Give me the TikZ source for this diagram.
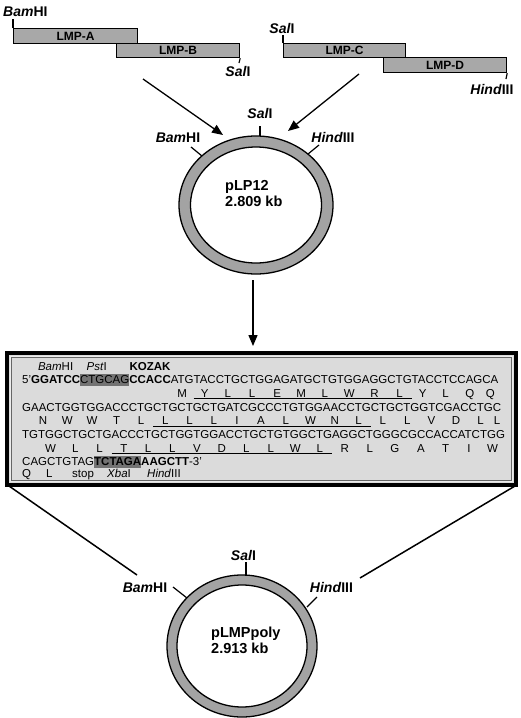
\documentclass[tikz,border=0pt]{standalone}
\usepackage{fontspec}
\setmainfont{Liberation Sans}
\usetikzlibrary{arrows.meta}
\definecolor{ringgray}{gray}{0.64}
\definecolor{bargray}{gray}{0.66}
\definecolor{boxgray}{gray}{0.86}
\definecolor{hlgray}{gray}{0.45}
\newsavebox\cdbox
\newcommand\cd[2]{\setbox\cdbox\hbox{#1}\vtop{\copy\cdbox\hbox to\wd\cdbox{\hss#2\hss}}}
\newcommand\cu[2]{\setbox\cdbox\hbox{#1}\vtop{\copy\cdbox\hbox to\wd\cdbox{\hss#2\hss}\kern1.3pt\hrule height0.8pt}}
\newcommand\lb[2]{\setbox\cdbox\hbox{#2}\vbox{\hbox to\wd\cdbox{\hss#1\hss}\copy\cdbox}}
\newcommand\hl[1]{\setbox\cdbox\hbox{#1}\rlap{\color{hlgray}\rule[-2.3pt]{\wd\cdbox}{11.8pt}}\copy\cdbox}
\begin{document}
\begin{tikzpicture}[x=1pt,y=-1pt,
  bar/.style={draw, fill=bargray, line width=1.2pt, inner sep=0pt, anchor=north west,
    font=\bfseries\fontsize{12}{14}\selectfont},
  lab/.style={inner sep=0pt, font=\bfseries\fontsize{14}{16}\selectfont},
  big/.style={inner sep=0pt, anchor=base west, font=\bfseries\fontsize{14.5}{16}\selectfont},
  seq/.style={inner sep=0pt, anchor=base west, font=\fontsize{11.5}{13.5}\selectfont},
  tick/.style={line width=1.2pt},
  arr/.style={line width=1.3pt, -{Triangle[length=11pt,width=9pt]}},
  link/.style={line width=1.5pt}]
\useasboundingbox (0,0) rectangle (520,718);

% ---------- fragments ----------
\node[bar, minimum width=124pt, minimum height=15pt] (lmpa) at (13,28) {LMP-A};
\node[bar, minimum width=123pt, minimum height=14pt] (lmpb) at (116,43) {LMP-B};
\node[bar, minimum width=122pt, minimum height=14pt] (lmpc) at (283,43) {LMP-C};
\node[bar, minimum width=123pt, minimum height=15pt] (lmpd) at (383,57) {LMP-D};

\coordinate (t1) at (13,19);
\draw[tick] (lmpa.north west) -- (t1);
\node[lab, anchor=base west] (bam0) at (3,16) {\textit{Bam}HI};
\coordinate (t2) at (239,63);
\draw[tick] (lmpb.south east) -- (t2);
\node[lab, anchor=base] (sal0) at (238,76) {\textit{Sal}I};
\coordinate (t3) at (283,35);
\draw[tick] (lmpc.north west) -- (t3);
\node[lab, anchor=base] (sal1) at (282,33) {\textit{Sal}I};
\coordinate (t4) at (506,79);
\draw[tick] (lmpd.south east) -- (t4);
\node[lab, anchor=base] (hind0) at (492,94) {\textit{Hind}III};

% ---------- arrows to pLP12 ----------
\coordinate (a1s) at (143,79);
\coordinate (a1e) at (223,135);
\coordinate (a2s) at (359,74);
\coordinate (a2e) at (288,131);
\draw[arr] (a1s) -- (a1e);
\draw[arr] (a2s) -- (a2e);

% ---------- pLP12 ----------
\filldraw[fill=ringgray, line width=1.3pt] (256,205) ellipse [x radius=77, y radius=69];
\filldraw[fill=white, line width=1.3pt] (256,205) ellipse [x radius=65.5, y radius=58];
\node[big] (p1a) at (225,190) {pLP12};
\node[big] (p1b) at (225,206) {2.809 kb};
\coordinate (s1a) at (260,126); \coordinate (s1b) at (260,136);
\draw[tick] (s1a) -- (s1b);
\node[lab, anchor=base] (sal2) at (260,118) {\textit{Sal}I};
\coordinate (b1a) at (191,147); \coordinate (b1b) at (202,156);
\draw[tick] (b1a) -- (b1b);
\node[lab, anchor=base] (bam2) at (178,142) {\textit{Bam}HI};
\coordinate (h1a) at (319,145); \coordinate (h1b) at (308,154);
\draw[tick] (h1a) -- (h1b);
\node[lab, anchor=base] (hind2) at (333,142) {\textit{Hind}III};

\coordinate (d1) at (253,280);
\coordinate (d2) at (253,346);
\draw[arr] (d1) -- (d2);

% ---------- sequence box ----------
\draw[line width=4pt, fill=boxgray] (7,353) rectangle (516,485);
\draw[line width=1.2pt, gray!15] (10.2,356.2) rectangle (512.8,481.8);
\draw[line width=0.6pt, gray!80!black] (11.6,357.6) rectangle (511.4,480.4);
\coordinate (bl) at (9,486);
\coordinate (br) at (515,486);

\node[seq] (l1) at (22,383.5) {5'\lb{\textit{Bam}HI}{\textbf{GGATCC}}\lb{\textit{Pst}I\kern16pt}{\hl{CTGCAG}}\lb{\textbf{KOZAK}}{\textbf{CCACC}}\cd{ATG}{M}\cu{TAC}{Y}\cu{CTG}{L}\cu{CTG}{L}\cu{GAG}{E}\cu{ATG}{M}\cu{CTG}{L}\cu{TGG}{W}\cu{AGG}{R}\cu{CTG}{L}\cd{TAC}{Y}\cd{CTC}{L}\cd{CAG}{Q}\cd{CA}{Q}};
\node[seq] (l2) at (22,411) {\cd{G}{}\cd{AAC}{N}\cd{TGG}{W}\cd{TGG}{W}\cd{ACC}{T}\cd{CTG}{L}\cu{CTG}{L}\cu{CTG}{L}\cu{CTG}{L}\cu{ATC}{I}\cu{GCC}{A}\cu{CTG}{L}\cu{TGG}{W}\cu{AAC}{N}\cu{CTG}{L}\cd{CTG}{L}\cd{CTG}{L}\cd{GTC}{V}\cd{GAC}{D}\cd{CTG}{L}\cd{C}{L}};
\node[seq] (l3) at (22,438.5) {\cd{TG}{}\cd{TGG}{W}\cd{CTG}{L}\cd{CTG}{L}\cu{ACC}{T}\cu{CTG}{L}\cu{CTG}{L}\cu{GTG}{V}\cu{GAC}{D}\cu{CTG}{L}\cu{CTG}{L}\cu{TGG}{W}\cu{CTG}{L}\cd{AGG}{R}\cd{CTG}{L}\cd{GGC}{G}\cd{GCC}{A}\cd{ACC}{T}\cd{ATC}{I}\cd{TGG}{W}};
\node[seq] (l4) at (22,465.5) {CAGCTGTAG\hl{\textbf{TCTAGA}}\textbf{AAGCTT}-3'};
\node[seq] (q1) at (22,477.5) {Q};
\node[seq] (q2) at (46,477.5) {L};
\node[seq] (q3) at (72,477.5) {stop};
\node[seq] (q4) at (107,477.5) {\textit{Xba}I};
\node[seq] (q5) at (147,477.5) {\textit{Hind}III};

% ---------- pLMPpoly ----------
\coordinate (c1) at (137,575);
\coordinate (c2) at (360,578);
\draw[link] (bl) -- (c1);
\draw[link] (br) -- (c2);
\filldraw[fill=ringgray, line width=1.3pt] (242,646) ellipse [x radius=75, y radius=71];
\filldraw[fill=white, line width=1.3pt] (242,646) ellipse [x radius=65, y radius=61];
\node[big] (p2a) at (211,637) {pLMPpoly};
\node[big] (p2b) at (211,653) {2.913 kb};
\coordinate (s2a) at (246,562); \coordinate (s2b) at (246,576);
\draw[tick] (s2a) -- (s2b);
\node[lab, anchor=base] (sal3) at (243.5,560) {\textit{Sal}I};
\coordinate (b2a) at (173,587); \coordinate (b2b) at (187,598);
\draw[tick] (b2a) -- (b2b);
\node[lab, anchor=base] (bam3) at (145,592) {\textit{Bam}HI};
\coordinate (h2a) at (317,597); \coordinate (h2b) at (307,607);
\draw[tick] (h2a) -- (h2b);
\node[lab, anchor=base] (hind3) at (331.5,592) {\textit{Hind}III};
\end{tikzpicture}
\end{document}
